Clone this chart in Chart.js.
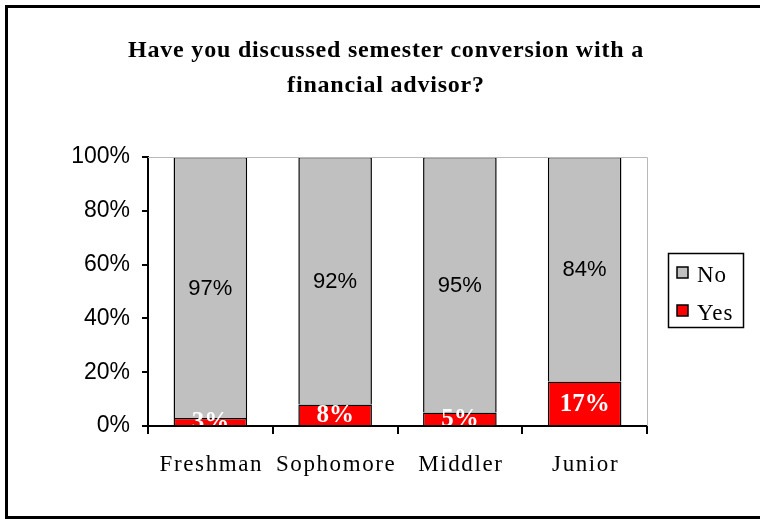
<!DOCTYPE html>
<html>
<head>
<meta charset="utf-8">
<script src="https://cdn.jsdelivr.net/npm/chart.js@4.4.1/dist/chart.umd.min.js"></script>
<style>
  body { margin: 0; background: #fff; }
  #wrap { position: relative; width: 760px; height: 519px; }
</style>
</head>
<body>
<div id="wrap"><canvas id="myChart"></canvas></div>
<script>
// chart data
var categories = ['Freshman', 'Sophomore', 'Middler', 'Junior'];
var yesValues = [3, 8, 5, 16.5];
var noValues = [97, 92, 95, 83.5];
var yTickStep = 20;
var titleLines = ['Have you discussed semester conversion with a', 'financial advisor?'];

var GREY = '#c0c0c0';
var RED = '#ff0000';

// frame, title, plot border, labels, legend
var extras = {
  id: 'extras',
  afterDraw: function(chart) {
    var ctx = chart.ctx;
    var area = chart.chartArea;
    ctx.save();

    // outer frame
    ctx.strokeStyle = '#000';
    ctx.lineWidth = 3;
    ctx.strokeRect(6.5, 6.5, 760, 511);

    // title
    ctx.fillStyle = '#000';
    ctx.font = 'bold 24px "Liberation Serif", "Times New Roman", serif';
    ctx.letterSpacing = '0.8px';
    ctx.textAlign = 'center';
    ctx.textBaseline = 'middle';
    ctx.fillText(titleLines[0], 386, 51);
    ctx.fillText(titleLines[1], 386, 86);

    // light plot border top/right
    ctx.letterSpacing = '0px';
    ctx.strokeStyle = '#b8b8b8';
    ctx.lineWidth = 1;
    ctx.beginPath();
    ctx.moveTo(area.left, area.top + 0.5);
    ctx.lineTo(area.right + 0.5, area.top + 0.5);
    ctx.lineTo(area.right + 0.5, area.bottom);
    ctx.stroke();

    // values inside bars
    var yesMeta = chart.getDatasetMeta(0);
    var noMeta = chart.getDatasetMeta(1);
    ctx.save();
    ctx.beginPath();
    ctx.rect(area.left, area.top, area.right - area.left, area.bottom - area.top - 1);
    ctx.clip();
    for (var i = 0; i < categories.length; i++) {
      var b = noMeta.data[i];
      ctx.fillStyle = '#000';
      ctx.font = '22px "Liberation Sans", Arial, sans-serif';
      ctx.fillText(Math.round(noValues[i]) + '%', b.x, (b.y + b.base) / 2 + 1);

      var r = yesMeta.data[i];
      ctx.fillStyle = '#fff';
      ctx.font = 'bold 25px "Liberation Serif", "Times New Roman", serif';
      ctx.fillText(Math.round(yesValues[i]) + '%', r.x, (r.y + r.base) / 2 + 1);
    }
    ctx.restore();

    // x labels
    var xs = chart.scales.x;
    ctx.fillStyle = '#000';
    ctx.font = '23px "Liberation Serif", "Times New Roman", serif';
    ctx.letterSpacing = '1.6px';
    for (var j = 0; j < categories.length; j++) {
      ctx.fillText(categories[j], xs.getPixelForValue(j) + 1, 465);
    }

    // legend
    ctx.letterSpacing = '0px';
    ctx.strokeStyle = '#000';
    ctx.lineWidth = 1.5;
    ctx.strokeRect(668.5, 253.5, 75, 74);
    var items = [
      { text: 'No', color: GREY, y: 275 },
      { text: 'Yes', color: RED, y: 313 }
    ];
    ctx.textAlign = 'left';
    ctx.font = '23px "Liberation Serif", "Times New Roman", serif';
    ctx.letterSpacing = '1px';
    items.forEach(function(it) {
      ctx.fillStyle = it.color;
      ctx.fillRect(677, it.y - 8, 11, 11);
      ctx.lineWidth = 1.5;
      ctx.strokeRect(677, it.y - 8, 11, 11);
      ctx.fillStyle = '#000';
      ctx.fillText(it.text, 697, it.y + 1);
    });
    ctx.restore();
  }
};

var ctx = document.getElementById('myChart').getContext('2d');
var myChart = new Chart(ctx, {
  type: 'bar',
  data: {
    labels: categories,
    datasets: [
      {
        label: 'Yes',
        data: yesValues,
        backgroundColor: RED,
        borderColor: '#000',
        borderWidth: 1.5,
        barPercentage: 0.59,
        categoryPercentage: 1
      },
      {
        label: 'No',
        data: noValues,
        backgroundColor: GREY,
        borderColor: '#000',
        borderWidth: 1.5,
        barPercentage: 0.59,
        categoryPercentage: 1
      }
    ]
  },
  options: {
    responsive: true,
    maintainAspectRatio: false,
    animation: false,
    layout: { padding: { top: 157, right: 113, left: 0, bottom: 0 } },
    plugins: {
      legend: { display: false },
      title: { display: false },
      tooltip: { enabled: false }
    },
    scales: {
      x: {
        stacked: true,
        border: { color: '#000', width: 2 },
        grid: { drawOnChartArea: false, color: '#000', lineWidth: 2, tickLength: 8 },
        ticks: { display: false },
        afterFit: function(s) { s.height = 93; }
      },
      y: {
        stacked: true,
        min: 0,
        max: 100,
        border: { color: '#000', width: 2 },
        grid: { drawOnChartArea: false, color: '#000', lineWidth: 2, tickLength: 6 },
        ticks: {
          stepSize: yTickStep,
          color: '#000',
          padding: 12,
          font: { family: '"Liberation Sans", Arial, sans-serif', size: 23 },
          callback: function(v) { return v + '%'; }
        },
        afterFit: function(s) { s.width = 148; }
      }
    }
  },
  plugins: [extras]
});
</script>
</body>
</html>
